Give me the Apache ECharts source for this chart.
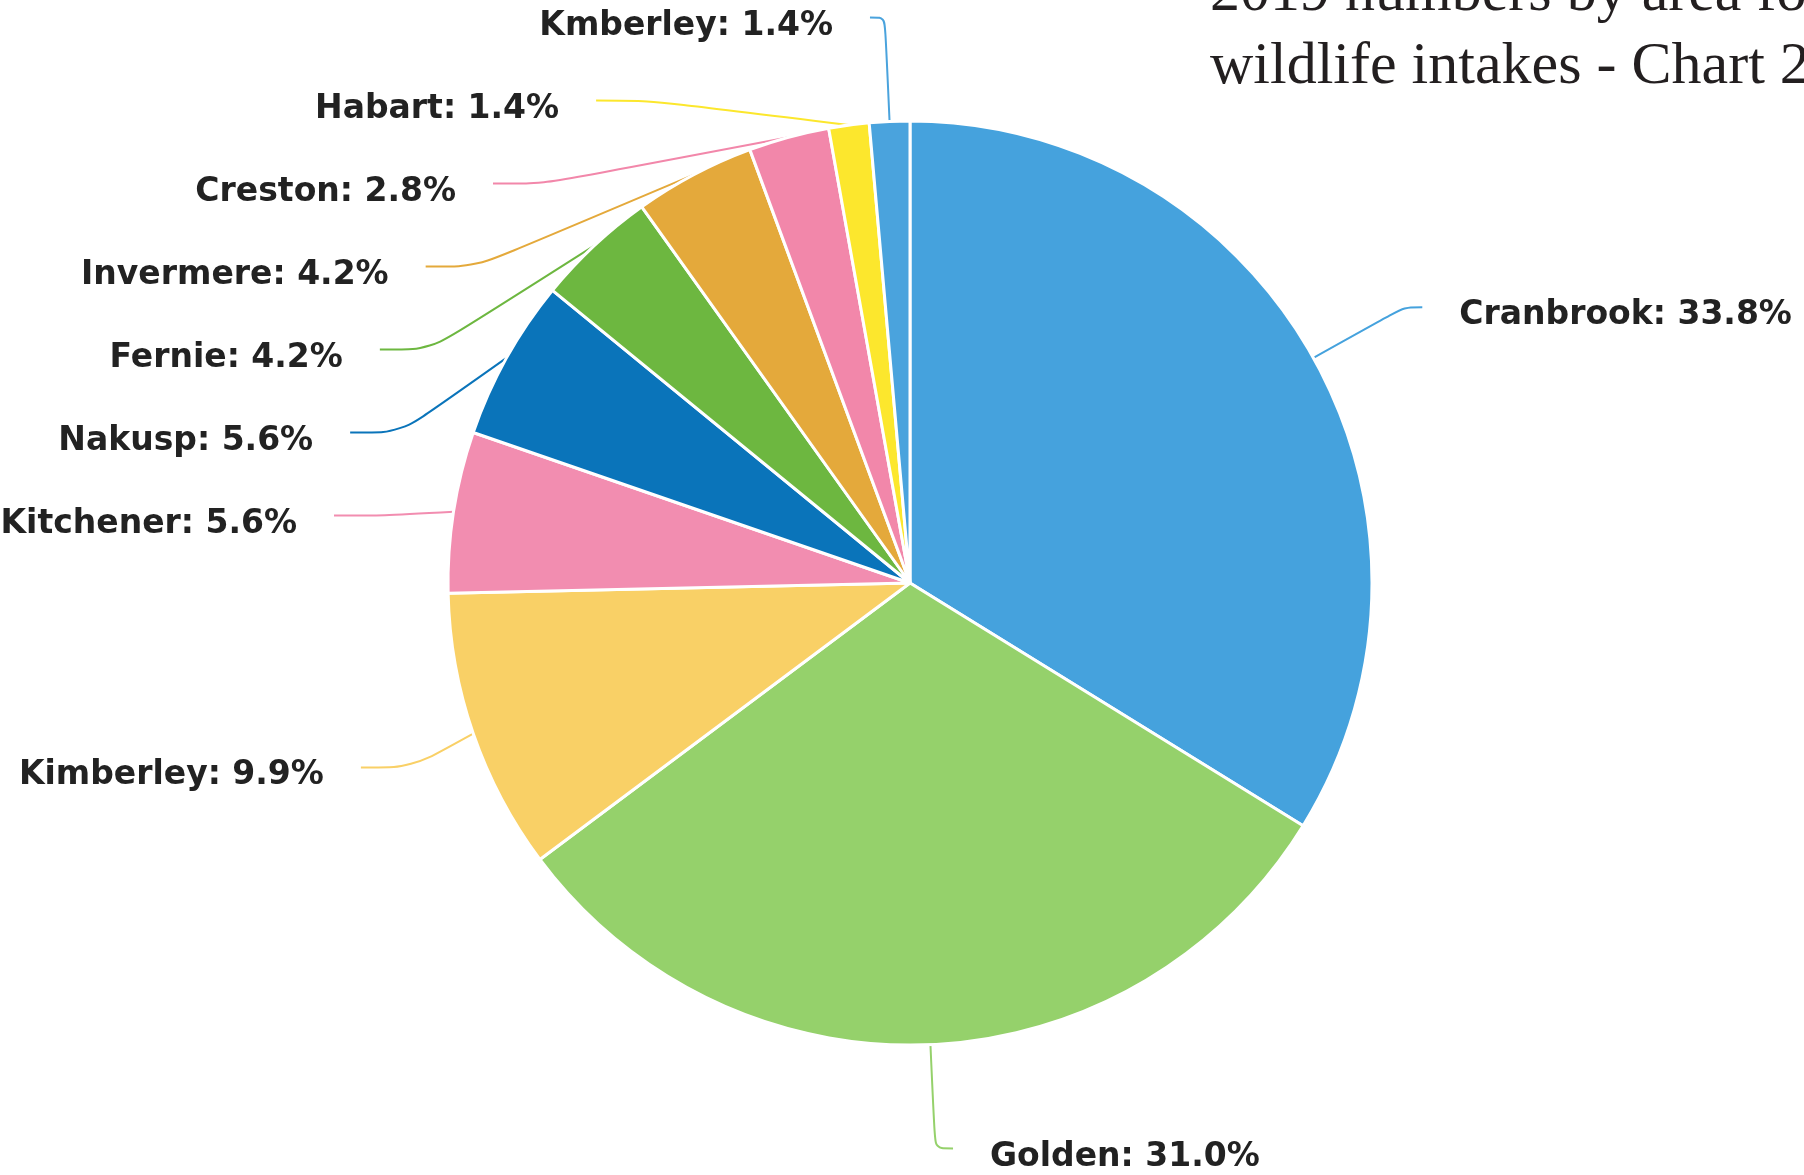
<!DOCTYPE html>
<html>
<head>
<meta charset="utf-8">
<script src="https://cdn.jsdelivr.net/npm/echarts@6/dist/echarts.min.js"></script>
<style>
  html, body { margin: 0; padding: 0; background: #fff; overflow: hidden; width: 1804px; height: 1175px; }
  #chart { position: absolute; left: 0; top: -60px; width: 1804px; height: 1320px; }
</style>
</head>
<body>
<div id="chart"></div>
<script>
const titleLines = ['2019 numbers by area for', 'wildlife intakes - Chart 2'];
const categories = ['Cranbrook', 'Golden', 'Kimberley', 'Kitchener', 'Nakusp', 'Fernie', 'Invermere', 'Creston', 'Habart', 'Kmberley'];
const counts = [24, 22, 7, 4, 4, 3, 3, 2, 1, 1];
const sliceColors = ['#45A2DD', '#95D16B', '#F9D066', '#F28DB0', '#0A74BA', '#6DB740', '#E4A93B', '#F287AA', '#FCE72D', '#4AA3DD'];
// second leader segment length per slice (style only)
const leaderLen2 = [18, 18, 51, 51, 51, 51, 51, 51, 51, 15];

const total = counts.reduce((a, b) => a + b, 0);
const chart = echarts.init(document.getElementById('chart'), null, { renderer: 'canvas' });

const labelFont = { fontFamily: 'DejaVu Sans', fontWeight: 'bold', fontSize: 33, color: '#222222' };

chart.setOption({
  backgroundColor: '#ffffff',
  animation: false,
  title: {
    text: titleLines.join('\n'),
    left: 1210,
    top: 18,
    padding: 0,
    textStyle: {
      fontFamily: 'Liberation Serif',
      fontSize: 60,
      fontWeight: 'normal',
      lineHeight: 73,
      color: '#231f20'
    }
  },
  series: [{
    type: 'pie',
    left: 0,
    top: 0,
    width: 1950,
    height: 1320,
    center: [910, 643],
    radius: 462,
    startAngle: 90,
    clockwise: true,
    avoidLabelOverlap: true,
    itemStyle: { borderColor: '#ffffff', borderWidth: 3 },
    label: {
      show: true,
      position: 'outside',
      overflow: 'none',
      distanceToLabelLine: 37,
      formatter: p => '{s| }\n{t|' + p.name + ': ' + (p.value / total * 100).toFixed(1) + '%}\n{b| }',
      rich: {
        s: { fontSize: 1, lineHeight: 47.5 },
        t: Object.assign({ lineHeight: 41 }, labelFont),
        b: { fontSize: 1, lineHeight: 30.5 }
      }
    },
    labelLine: {
      show: true,
      length: 104,
      smooth: 0.3,
      lineStyle: { width: 2 }
    },
    data: categories.map((name, i) => ({
      name: name,
      value: counts[i],
      itemStyle: { color: sliceColors[i] },
      labelLine: { length2: leaderLen2[i] }
    }))
  }]
});
</script>
</body>
</html>
